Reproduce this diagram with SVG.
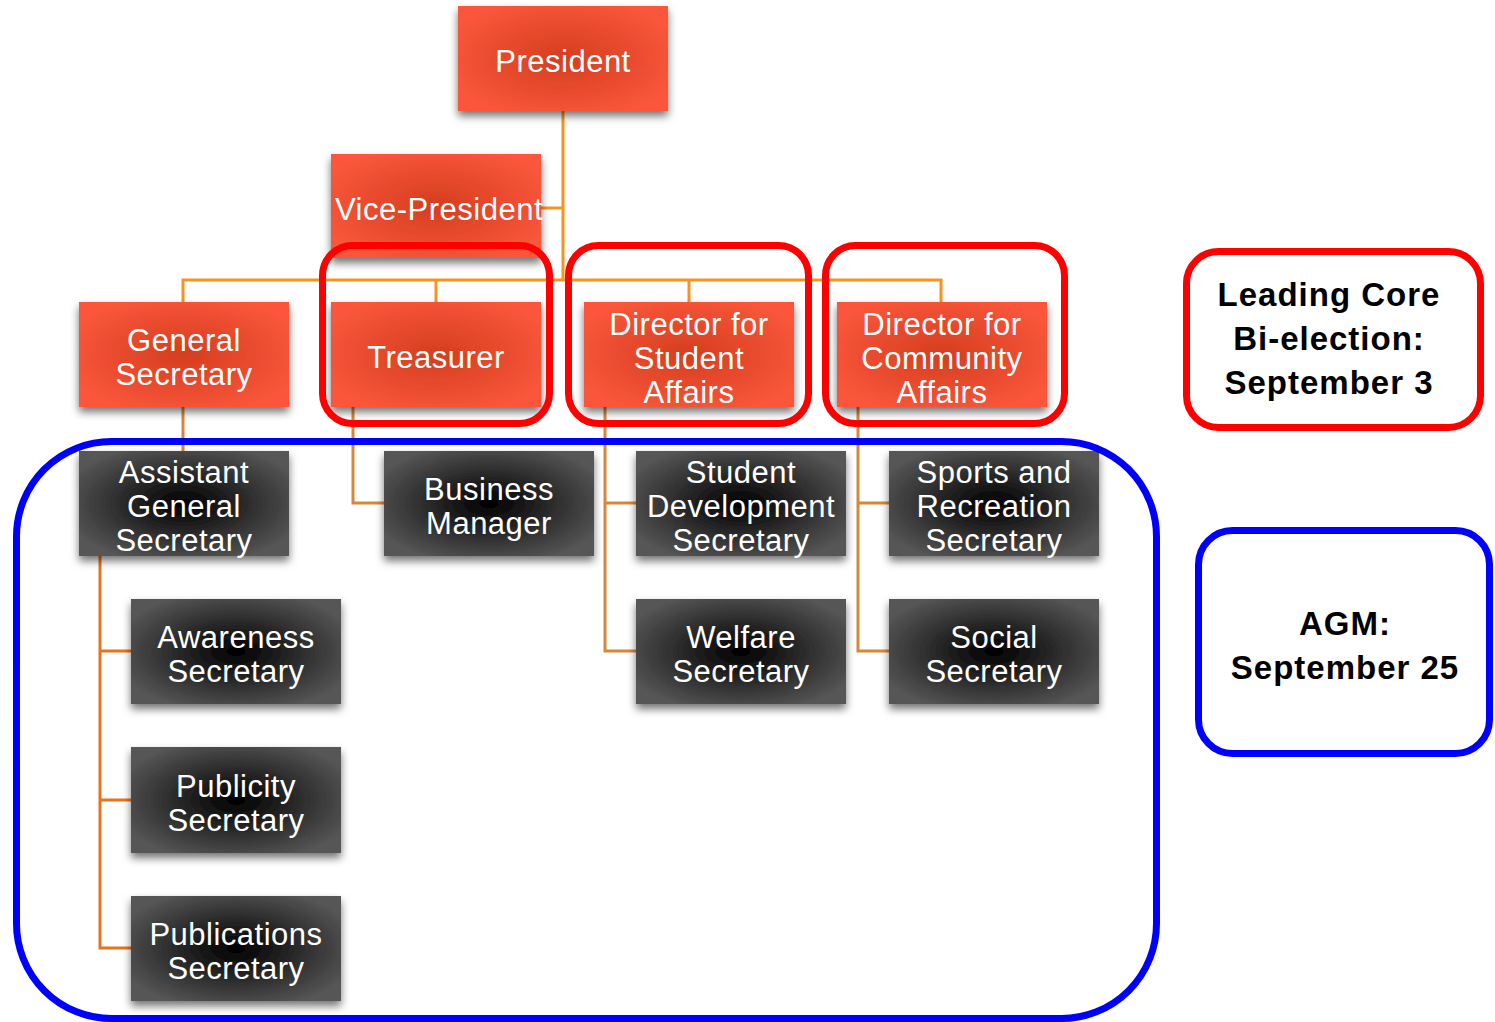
<svg xmlns="http://www.w3.org/2000/svg" width="1495" height="1022" viewBox="0 0 1495 1022">
<defs>
<radialGradient id="rg" cx="50%" cy="50%" r="60%">
<stop offset="0" stop-color="#d43e1f"/>
<stop offset="1" stop-color="#fb573b"/>
</radialGradient>
<radialGradient id="dg" cx="50%" cy="50%" r="60%">
<stop offset="0" stop-color="#000000"/>
<stop offset="1" stop-color="#575757"/>
</radialGradient>
<filter id="sh" x="-10%" y="-10%" width="120%" height="130%">
<feDropShadow dx="0" dy="5" stdDeviation="4" flood-color="#000" flood-opacity="0.55"/>
</filter>
</defs>
<style>
.r{fill:url(#rg);filter:url(#sh)}
.d{fill:url(#dg);filter:url(#sh)}
.t{font-family:"Liberation Sans",Arial,sans-serif;font-size:31px;fill:#fff;text-anchor:middle;letter-spacing:0.5px}
.b{font-family:"Liberation Sans",Arial,sans-serif;font-size:33px;font-weight:bold;fill:#000;text-anchor:middle;letter-spacing:1px}
.c1{fill:none;stroke:#f7941d;stroke-width:3}
.c2{fill:none;stroke:#d4883a;stroke-width:3}
.c3{fill:none;stroke:#e8731e;stroke-width:3}
.red{fill:none;stroke:#ff0000;stroke-width:7}
.blue{fill:none;stroke:#0000ff;stroke-width:7}
</style>
<g id="connectors">
<path class="c1" d="M563 111V280M541 208H563M183 302V280H941V302M436 280V302M689 280V302"/>
<path class="c2" d="M183 407V451M353 407V503H384M605 407V651H636M605 503H636M858 407V651H889M858 503H889"/>
<path class="c3" d="M100 556V948H131M100 651H131M100 800H131"/>
</g>
<g id="president"><rect class="r" x="458" y="6" width="210" height="105"/><text class="t" x="563" y="72">President</text></g>
<g id="vice-president"><rect class="r" x="331" y="154" width="210" height="104"/><text class="t" x="439" y="220">Vice-President</text></g>
<g id="general-secretary"><rect class="r" x="79" y="302" width="210" height="105"/><text class="t" x="184" y="351">General</text><text class="t" x="184" y="385">Secretary</text></g>
<g id="treasurer"><rect class="r" x="331" y="302" width="210" height="105"/><text class="t" x="436" y="368">Treasurer</text></g>
<g id="director-student"><rect class="r" x="584" y="302" width="210" height="105"/><text class="t" x="689" y="335">Director for</text><text class="t" x="689" y="369">Student</text><text class="t" x="689" y="403">Affairs</text></g>
<g id="director-community"><rect class="r" x="837" y="302" width="210" height="105"/><text class="t" x="942" y="335">Director for</text><text class="t" x="942" y="369">Community</text><text class="t" x="942" y="403">Affairs</text></g>
<g id="assistant-gs"><rect class="d" x="79" y="451" width="210" height="105"/><text class="t" x="184" y="483">Assistant</text><text class="t" x="184" y="517">General</text><text class="t" x="184" y="551">Secretary</text></g>
<g id="business-manager"><rect class="d" x="384" y="451" width="210" height="105"/><text class="t" x="489" y="500">Business</text><text class="t" x="489" y="534">Manager</text></g>
<g id="student-dev"><rect class="d" x="636" y="451" width="210" height="105"/><text class="t" x="741" y="483">Student</text><text class="t" x="741" y="517">Development</text><text class="t" x="741" y="551">Secretary</text></g>
<g id="sports"><rect class="d" x="889" y="451" width="210" height="105"/><text class="t" x="994" y="483">Sports and</text><text class="t" x="994" y="517">Recreation</text><text class="t" x="994" y="551">Secretary</text></g>
<g id="awareness"><rect class="d" x="131" y="599" width="210" height="105"/><text class="t" x="236" y="648">Awareness</text><text class="t" x="236" y="682">Secretary</text></g>
<g id="welfare"><rect class="d" x="636" y="599" width="210" height="105"/><text class="t" x="741" y="648">Welfare</text><text class="t" x="741" y="682">Secretary</text></g>
<g id="social"><rect class="d" x="889" y="599" width="210" height="105"/><text class="t" x="994" y="648">Social</text><text class="t" x="994" y="682">Secretary</text></g>
<g id="publicity"><rect class="d" x="131" y="747" width="210" height="106"/><text class="t" x="236" y="797">Publicity</text><text class="t" x="236" y="831">Secretary</text></g>
<g id="publications"><rect class="d" x="131" y="896" width="210" height="105"/><text class="t" x="236" y="945">Publications</text><text class="t" x="236" y="979">Secretary</text></g>
<g id="highlights">
<rect class="red" x="322.5" y="245.5" width="227" height="178" rx="30"/>
<rect class="red" x="568.5" y="245.5" width="240" height="178" rx="30"/>
<rect class="red" x="825.5" y="245.5" width="239" height="178" rx="30"/>
<rect class="blue" x="16.5" y="441.5" width="1140" height="577" rx="95"/>
</g>
<g id="leading-core"><rect class="red" x="1186.5" y="251.5" width="294" height="176" rx="32"/><text class="b" x="1329" y="306">Leading Core</text><text class="b" x="1329" y="350">Bi-election:</text><text class="b" x="1329" y="394">September 3</text></g>
<g id="agm"><rect class="blue" x="1198.5" y="530.5" width="291" height="223" rx="34"/><text class="b" x="1345" y="635">AGM:</text><text class="b" x="1345" y="679">September 25</text></g>
</svg>
